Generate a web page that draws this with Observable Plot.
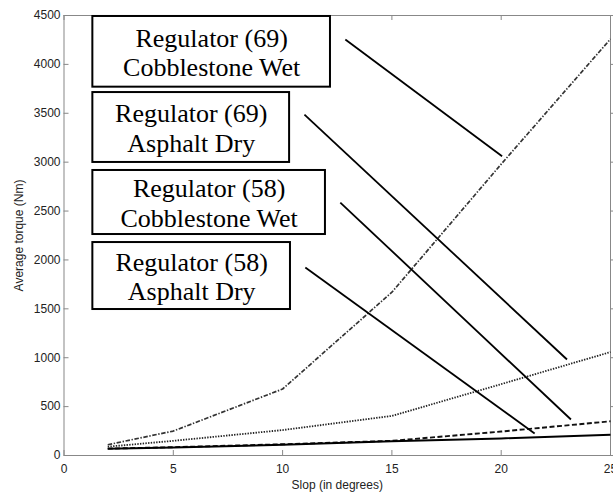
<!DOCTYPE html>
<html><head><meta charset="utf-8">
<script src="https://cdn.jsdelivr.net/npm/d3@7"></script>
<script src="https://cdn.jsdelivr.net/npm/@observablehq/plot@0.6"></script>
<style>html,body{margin:0;padding:0;background:#fff;overflow:hidden}</style>
</head><body><div id="chart"></div>
<script>
// Data
const slope = [2, 5, 10, 15, 20, 25];
const reg69Cobble = [110, 250, 680, 1670, 2980, 4260];
const reg69Asphalt = [90, 150, 260, 405, 730, 1058];
const reg58Cobble = [70, 85, 115, 150, 245, 350];
const reg58Asphalt = [68, 82, 110, 145, 175, 212];
const xTicks = [0, 5, 10, 15, 20, 25];
const yTicks = [0, 500, 1000, 1500, 2000, 2500, 3000, 3500, 4000, 4500];

// Annotation boxes (data coordinates) and labels
const boxLabels = ["Regulator (69)\nCobblestone Wet", "Regulator (69)\nAsphalt Dry", "Regulator (58)\nCobblestone Wet", "Regulator (58)\nAsphalt Dry"];
const boxX1 = [1.32, 1.32, 1.32, 1.32];
const boxX2 = [12.19, 10.32, 11.96, 10.36];
const boxYTop = [4490, 3712, 2915, 2178];
const boxYBot = [3767, 2997, 2260, 1493];
// Pointer lines
const ptrX1 = [12.87, 11.0, 12.64, 11.04];
const ptrY1 = [4254, 3487, 2587, 1923];
const ptrX2 = [20.04, 23.01, 23.19, 21.53];
const ptrY2 = [3061, 982, 368, 225];

const seriesDefs = [
  {values: reg69Cobble, dash: "4.5,1.6,1.4,1.6", width: 1.7, color: "#333"},
  {values: reg69Asphalt, dash: "1.4,1.3", width: 1.8, color: "#222"},
  {values: reg58Cobble, dash: "5,2.5", width: 1.9, color: "#111"},
  {values: reg58Asphalt, dash: null, width: 2, color: "#000"}
];
const boxes = boxLabels.map((t, i) => ({text: t, x1: boxX1[i], x2: boxX2[i], y1: boxYBot[i], y2: boxYTop[i]}));
const ptrs = ptrX1.map((d, i) => ({x1: ptrX1[i], y1: ptrY1[i], x2: ptrX2[i], y2: ptrY2[i]}));

const axisColor = "#888";
const labelColor = "#222";

const marks = [
  Plot.frame({stroke: axisColor, strokeWidth: 1}),
  // inward ticks on all four sides
  Plot.ruleX(xTicks, {x: d => d, y1: 0, y2: 0, insetBottom: 5, stroke: axisColor}),
  Plot.ruleX(xTicks, {x: d => d, y1: 4500, y2: 4500, insetTop: 0, insetBottom: -5, stroke: axisColor}),
  Plot.ruleY(yTicks, {y: d => d, x1: 0, x2: 0, insetRight: -5, stroke: axisColor}),
  Plot.ruleY(yTicks, {y: d => d, x1: 25, x2: 25, insetLeft: 5, stroke: axisColor}),
  Plot.axisX({ticks: xTicks, tickFormat: d3.format("d"), tickSize: 0, tickPadding: 9, fontSize: 12, fill: labelColor, fontFamily: "Liberation Sans, Arial, sans-serif",
    label: "Slop (in degrees)", labelAnchor: "center", labelArrow: "none", labelOffset: 33}),
  Plot.axisY({ticks: yTicks, tickFormat: d3.format("d"), tickSize: 0, tickPadding: 3.5, fontSize: 12, fill: labelColor, fontFamily: "Liberation Sans, Arial, sans-serif",
    label: "Average torque (Nm)", labelAnchor: "center", labelArrow: "none", labelOffset: 50}),
  ...seriesDefs.map(s => Plot.line(slope.map((x, i) => ({x, y: s.values[i]})), {
    x: "x", y: "y", stroke: s.color, strokeWidth: s.width, strokeDasharray: s.dash, strokeLinecap: "butt"
  })),
  Plot.link(ptrs, {x1: "x1", y1: "y1", x2: "x2", y2: "y2", stroke: "#000", strokeWidth: 1.8}),
  Plot.rect(boxes, {x1: "x1", x2: "x2", y1: "y1", y2: "y2", fill: "white", stroke: "#000", strokeWidth: 2}),
  Plot.text(boxes, {x: d => (d.x1 + d.x2) / 2, y: d => (d.y1 + d.y2) / 2, text: "text",
    fontFamily: "Liberation Serif, Times New Roman, serif", fontSize: 26, lineHeight: 1.13, fill: "#000"})
];

const chart = Plot.plot({
  width: 613, height: 495,
  marginLeft: 63.5, marginRight: 3, marginTop: 15, marginBottom: 40,
  x: {domain: [0, 25]},
  y: {domain: [0, 4500]},
  style: {background: "white", overflow: "visible", color: labelColor},
  marks
});
document.getElementById("chart").appendChild(chart);
</script>
</body></html>
